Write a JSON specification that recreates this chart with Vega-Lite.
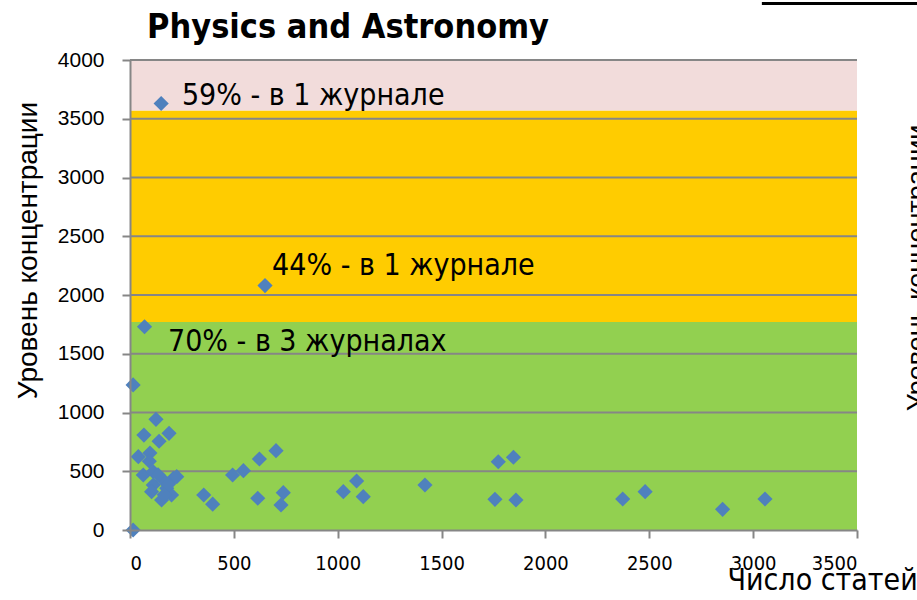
{
  "$schema": "https://vega.github.io/schema/vega-lite/v6.json",
  "width": 727,
  "height": 470,
  "autosize": {"type": "none"},
  "padding": {"left": 130, "top": 60, "right": 60, "bottom": 70},
  "background": "white",
  "config": {"view": {"stroke": null}},
  "title": {
    "text": "Physics and Astronomy",
    "anchor": "start",
    "frame": "group",
    "dx": 17,
    "dy": 85,
    "offset": 8,
    "baseline": "bottom",
    "fontSize": 34,
    "font": "DejaVu Sans Condensed",
    "fontWeight": "bold",
    "color": "#000000"
  },
  "datasets": {
    "bands": [
      {"x0": 0, "x1": 3500, "y0": 0, "y1": 1770, "band": "g"},
      {"x0": 0, "x1": 3500, "y0": 1770, "y1": 3570, "band": "o"},
      {"x0": 0, "x1": 3500, "y0": 3570, "y1": 4000, "band": "p"}
    ],
    "grid": [
      {"v": 500}, {"v": 1000}, {"v": 1500}, {"v": 2000},
      {"v": 2500}, {"v": 3000}, {"v": 3500}, {"v": 4000}
    ],
    "points": [
      {"x": 150, "y": 3630}, {"x": 650, "y": 2080}, {"x": 70, "y": 1730},
      {"x": 15, "y": 1235}, {"x": 15, "y": 0}, {"x": 125, "y": 942},
      {"x": 67, "y": 808}, {"x": 188, "y": 823}, {"x": 140, "y": 755},
      {"x": 40, "y": 624}, {"x": 96, "y": 655}, {"x": 93, "y": 585},
      {"x": 64, "y": 468}, {"x": 112, "y": 496}, {"x": 209, "y": 440},
      {"x": 160, "y": 425}, {"x": 112, "y": 383}, {"x": 177, "y": 355},
      {"x": 104, "y": 326}, {"x": 152, "y": 255}, {"x": 200, "y": 298},
      {"x": 225, "y": 454}, {"x": 135, "y": 470}, {"x": 185, "y": 390},
      {"x": 165, "y": 300}, {"x": 355, "y": 298}, {"x": 398, "y": 220},
      {"x": 494, "y": 468}, {"x": 546, "y": 505}, {"x": 623, "y": 604},
      {"x": 703, "y": 675}, {"x": 615, "y": 270}, {"x": 738, "y": 318},
      {"x": 727, "y": 213}, {"x": 1027, "y": 326}, {"x": 1091, "y": 417},
      {"x": 1123, "y": 284}, {"x": 1420, "y": 383}, {"x": 1773, "y": 581},
      {"x": 1846, "y": 619}, {"x": 1757, "y": 261}, {"x": 1858, "y": 255},
      {"x": 2372, "y": 264}, {"x": 2480, "y": 326}, {"x": 2853, "y": 176},
      {"x": 3057, "y": 264}
    ],
    "labels": [
      {"x": 250, "y": 3694, "label": "59% - в 1 журнале"},
      {"x": 684, "y": 2247, "label": "44% - в 1 журнале"},
      {"x": 183, "y": 1600, "label": "70% - в 3 журналах"}
    ],
    "side": [
      {"x": 3731, "y": 2230, "label": "Уровень концентрации"}
    ],
    "topline": [
      {"x0": 3042, "x1": 3800, "y": 4480}
    ]
  },
  "layer": [
    {
      "data": {"name": "bands"},
      "mark": {"type": "rect"},
      "encoding": {
        "x": {
          "field": "x0", "type": "quantitative",
          "scale": {"domain": [0, 3500], "nice": false},
          "axis": {
            "values": [0, 500, 1000, 1500, 2000, 2500, 3000, 3500],
            "format": "d",
            "grid": false,
            "zindex": 1,
            "domainColor": "#868686",
            "domainWidth": 2,
            "tickColor": "#868686",
            "tickWidth": 2,
            "tickSize": 8,
            "labelPadding": 15,
            "labelFont": "DejaVu Sans Condensed",
            "labelFontSize": 20,
            "labelColor": "#000000",
            "title": "Число статей",
            "titleFont": "DejaVu Sans Condensed",
            "titleFontSize": 30,
            "titleFontWeight": "normal",
            "titleColor": "#000000",
            "titleAlign": "left",
            "titleBaseline": "middle",
            "titleX": 597,
            "titleY": 50
          }
        },
        "x2": {"field": "x1"},
        "y": {
          "field": "y0", "type": "quantitative",
          "scale": {"domain": [0, 4000], "nice": false},
          "axis": {
            "values": [0, 500, 1000, 1500, 2000, 2500, 3000, 3500, 4000],
            "format": "d",
            "grid": false,
            "zindex": 1,
            "domainColor": "#868686",
            "domainWidth": 2,
            "tickColor": "#868686",
            "tickWidth": 2,
            "tickSize": 8,
            "labelPadding": 18,
            "labelFont": "Liberation Sans",
            "labelFontSize": 21,
            "labelColor": "#000000",
            "title": "Уровень концентрации",
            "titleFont": "Liberation Sans",
            "titleFontSize": 28,
            "titleFontWeight": "normal",
            "titleColor": "#000000",
            "titleAngle": 270,
            "titleAlign": "center",
            "titleBaseline": "middle",
            "titleX": -102,
            "titleY": 190
          }
        },
        "y2": {"field": "y1"},
        "color": {
          "field": "band", "type": "nominal",
          "scale": {"domain": ["g", "o", "p"], "range": ["#92D050", "#FFCC00", "#F2DCDB"]},
          "legend": null
        }
      }
    },
    {
      "data": {"name": "grid"},
      "mark": {"type": "rule", "color": "#868686", "strokeWidth": 2},
      "encoding": {
        "y": {"field": "v", "type": "quantitative"}
      }
    },
    {
      "data": {"name": "points"},
      "mark": {"type": "point", "shape": "diamond", "filled": true, "size": 230, "color": "#4F81BD", "opacity": 1},
      "encoding": {
        "x": {"field": "x", "type": "quantitative"},
        "y": {"field": "y", "type": "quantitative"}
      }
    },
    {
      "data": {"name": "labels"},
      "mark": {"type": "text", "align": "left", "baseline": "middle", "font": "DejaVu Sans Condensed", "fontSize": 30, "color": "#000000"},
      "encoding": {
        "x": {"field": "x", "type": "quantitative"},
        "y": {"field": "y", "type": "quantitative"},
        "text": {"field": "label"}
      }
    },
    {
      "data": {"name": "side"},
      "mark": {"type": "text", "angle": 270, "align": "center", "baseline": "top", "font": "Liberation Sans", "fontSize": 27, "color": "#000000", "clip": false},
      "encoding": {
        "x": {"field": "x", "type": "quantitative"},
        "y": {"field": "y", "type": "quantitative"},
        "text": {"field": "label"}
      }
    },
    {
      "data": {"name": "topline"},
      "mark": {"type": "rule", "color": "#000000", "strokeWidth": 3},
      "encoding": {
        "x": {"field": "x0", "type": "quantitative"},
        "x2": {"field": "x1"},
        "y": {"field": "y", "type": "quantitative"}
      }
    }
  ]
}
